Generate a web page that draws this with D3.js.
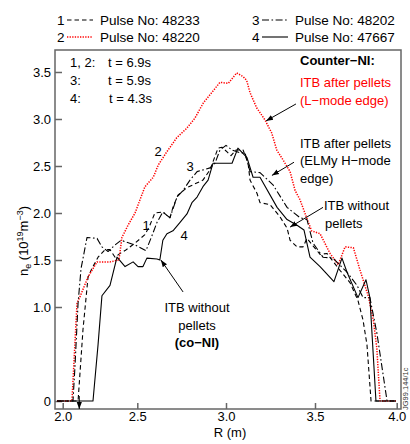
<!DOCTYPE html>
<html><head><meta charset="utf-8">
<script src="https://cdn.jsdelivr.net/npm/d3@7"></script>
<style>
body{margin:0;background:#fff}
svg{display:block}
text{font-family:"Liberation Sans",Arial,Helvetica,sans-serif;fill:#000}
</style>
</head><body>
<svg id="c" width="410" height="444"></svg>
<script>
// ---- data ----
const xTicks = [2.0, 2.5, 3.0, 3.5, 4.0];
const yTicks = [0, 1.0, 1.5, 2.0, 2.5, 3.0, 3.5];
const pulseIds = ["48233", "48220", "48202", "47667"];
const pulseTimes = ["t = 6.9s", "t = 5.9s", "t = 4.3s"];

// Pulse 1 (48233) dashed
const r1  = [1.962,2.103,2.136,2.170,2.196,2.237,2.284,2.317,2.351,2.384,2.418,2.485,2.543,2.571,2.599,2.644,2.684,2.701,2.729,2.780,2.814,2.870,2.910,2.955,2.977,3.006,3.028,3.056,3.096,3.124,3.135,3.174,3.191,3.247,3.303,3.343,3.360,3.399,3.433,3.455,3.489,3.531,3.573,3.653,3.714,3.763,3.794,3.818,3.843,3.996];
const ne1 = [0,0,0.76,1.32,1.41,1.53,1.61,1.61,1.53,1.57,1.60,1.68,1.77,1.87,2.00,2.01,1.95,2.06,2.19,2.27,2.30,2.35,2.46,2.69,2.70,2.65,2.61,2.67,2.67,2.53,2.35,2.21,2.11,2.09,1.96,1.84,1.71,1.64,1.64,1.73,1.65,1.56,1.57,1.39,1.26,1.07,0.86,0.60,0,0];

// Pulse 2 (48220) red dotted
const r2  = [1.962,2.062,2.096,2.116,2.170,2.230,2.317,2.377,2.397,2.438,2.485,2.515,2.543,2.590,2.618,2.666,2.722,2.778,2.825,2.872,2.919,2.966,3.013,3.060,3.097,3.116,3.135,3.172,3.219,3.257,3.285,3.322,3.360,3.388,3.416,3.453,3.481,3.531,3.592,3.642,3.684,3.735,3.776,3.827,3.857,3.878,3.898,3.996];
const ne2 = [0,0,1.04,1.11,1.32,1.48,1.48,1.50,1.74,1.87,2.00,2.14,2.28,2.38,2.51,2.65,2.80,2.90,3.01,3.17,3.28,3.39,3.38,3.49,3.45,3.41,3.28,3.12,2.99,2.85,2.67,2.56,2.44,2.24,2.14,1.95,1.81,1.78,1.57,1.45,1.64,1.63,1.39,1.11,0.86,0.57,0,0];

// Pulse 3 (48202) dash-dot
const r3  = [1.962,2.069,2.082,2.103,2.123,2.163,2.230,2.263,2.304,2.351,2.391,2.485,2.549,2.583,2.611,2.644,2.684,2.724,2.758,2.797,2.837,2.910,2.938,2.966,3.000,3.034,3.079,3.107,3.135,3.191,3.264,3.343,3.416,3.455,3.489,3.549,3.610,3.696,3.757,3.794,3.836,3.879,3.941,3.996];
const ne3 = [0,0,0.36,1.04,1.41,1.74,1.73,1.64,1.59,1.66,1.71,1.66,1.60,1.76,1.90,2.01,1.95,2.17,2.24,2.35,2.44,2.48,2.53,2.67,2.72,2.67,2.64,2.64,2.44,2.43,2.30,2.06,1.95,1.93,1.68,1.53,1.52,1.37,1.23,1.10,1.10,0.72,0,0];

// Pulse 4 (47667) solid
const r4  = [1.962,2.203,2.237,2.263,2.317,2.364,2.418,2.472,2.504,2.532,2.554,2.611,2.627,2.644,2.667,2.701,2.741,2.780,2.808,2.837,2.870,2.899,2.927,3.034,3.067,3.118,3.152,3.191,3.287,3.343,3.399,3.438,3.472,3.531,3.616,3.665,3.696,3.763,3.812,3.836,3.873,3.990];
const ne4 = [0,0,0.60,1.12,1.23,1.53,1.43,1.48,1.43,1.43,1.52,1.51,1.50,1.71,1.78,1.81,1.90,1.99,2.11,2.17,2.28,2.35,2.53,2.53,2.69,2.59,2.38,2.38,2.06,1.93,1.87,1.82,1.53,1.43,1.27,1.52,1.37,1.10,1.29,1.10,0,0];

// ---- chart ----
const svg = d3.select("#c");
const FONT = '"Liberation Sans",Arial,Helvetica,sans-serif';
const frame = {l:55, t:50, r:401, b:409};

const x = d3.scaleLinear().domain(xTicks).range([62.7,137.3,226,315,396.7]);
const y = d3.scaleLinear().domain([-0.085, 3.734]).range([frame.b, frame.t]);

// defs
const defs = svg.append("defs");
defs.append("marker").attr("id","ah").attr("viewBox","0 0 10 10")
  .attr("refX",10).attr("refY",5).attr("markerWidth",7).attr("markerHeight",7)
  .attr("markerUnits","userSpaceOnUse").attr("orient","auto")
  .append("path").attr("d","M0,1.3 L10,5 L0,8.7 z").attr("fill","#000");

// frame
svg.append("rect").attr("x",frame.l).attr("y",frame.t)
  .attr("width",frame.r-frame.l).attr("height",frame.b-frame.t)
  .attr("fill","none").attr("stroke","#666").attr("stroke-width",1.5);

// axes
const yAx = svg.append("g").attr("transform",`translate(${frame.l},0)`)
  .call(d3.axisLeft(y).tickValues(yTicks).tickSize(-7).tickPadding(4)
    .tickFormat(d => d===0 ? "0" : d.toFixed(1)));
const xAx = svg.append("g").attr("transform",`translate(0,${frame.b})`)
  .call(d3.axisBottom(x).tickValues(xTicks).tickSize(-6).tickPadding(3)
    .tickFormat(d3.format(".1f")));
[yAx,xAx].forEach(a=>{
  a.select(".domain").remove();
  a.selectAll(".tick line").attr("stroke","#666").attr("stroke-width",1.5);
  a.selectAll("text").attr("font-size",13).attr("font-family",FONT).attr("fill","#000");
});

// curves
const line = d3.line().x(d=>x(d[0])).y(d=>y(d[1]));
const series = [
  {r:r1, ne:ne1, stroke:"#000", dash:"4.5,3", w:1.1},
  {r:r2, ne:ne2, stroke:"#ff0000", dash:"1.3,1.3", w:1.5},
  {r:r3, ne:ne3, stroke:"#000", dash:"7,2.5,1.6,2.5", w:1.1},
  {r:r4, ne:ne4, stroke:"#000", dash:null, w:1.1}
];
series.forEach(s=>{
  svg.append("path").datum(s.r.map((v,i)=>[v,s.ne[i]]))
    .attr("d",line).attr("fill","none").attr("stroke",s.stroke)
    .attr("stroke-width",s.w).attr("stroke-dasharray",s.dash)
    .attr("stroke-linejoin","round");
});

// legend
const legendPos = [{x:57,y:25},{x:57,y:42},{x:252,y:25},{x:252,y:42}];
series.forEach((s,i)=>{
  const p = legendPos[i];
  svg.append("text").attr("x",p.x).attr("y",p.y).attr("font-size",13.5).text(String(i+1));
  svg.append("line").attr("x1",p.x+10).attr("x2",p.x+36).attr("y1",p.y-5).attr("y2",p.y-5)
    .attr("stroke",s.stroke).attr("stroke-width",s.w).attr("stroke-dasharray",s.dash);
  svg.append("text").attr("x",p.x+43).attr("y",p.y).attr("font-size",13.5)
    .text("Pulse No: " + pulseIds[i]);
});

// text helper
function txt(xp, yp, s, opts={}) {
  const t = svg.append("text").attr("x",xp).attr("y",yp).attr("font-size",opts.size||13)
    .attr("text-anchor",opts.anchor||"start").text(s);
  if (opts.bold) t.attr("font-weight","bold");
  if (opts.fill) t.style("fill",opts.fill);
  return t;
}
// times
txt(70,67,"1, 2:"); txt(108,67,pulseTimes[0]);
txt(70,85,"3:");    txt(108,85,pulseTimes[1]);
txt(70,103,"4:");   txt(109,103,pulseTimes[2]);

txt(300,65,"Counter\u2212NI:",{bold:true});
txt(300,87,"ITB after pellets",{fill:"#ff0000"});
txt(300,105,"(L\u2212mode edge)",{fill:"#ff0000"});
txt(300,148,"ITB after pellets");
txt(300,165,"(ELMy H\u2212mode");
txt(300,183,"edge)");
txt(324,210,"ITB without");
txt(325,228,"pellets");
txt(197,312,"ITB without",{anchor:"middle"});
txt(197,330,"pellets",{anchor:"middle"});
txt(197,347,"(co\u2212NI)",{anchor:"middle",bold:true});

// curve number labels
txt(146,230,"1",{anchor:"middle"});
txt(158,156,"2",{anchor:"middle"});
txt(190,171,"3",{anchor:"middle"});
txt(184,240,"4",{anchor:"middle"});

// arrows (data coordinates)
const arrows = [
  [[3.393,3.16],[3.225,2.98]],
  [[3.382,2.54],[3.258,2.40]],
  [[3.549,2.06],[3.360,1.85]],
  [[2.758,1.16],[2.633,1.50]],
  [[2.111,0.053],[2.111,-0.085]]
];
arrows.forEach(a=>{
  svg.append("line").attr("x1",x(a[0][0])).attr("y1",y(a[0][1]))
    .attr("x2",x(a[1][0])).attr("y2",y(a[1][1]))
    .attr("stroke","#000").attr("stroke-width",1).attr("marker-end","url(#ah)");
});

// axis titles
txt(230,437,"R (m)",{anchor:"middle"});
const yl = svg.append("text").attr("transform","translate(28,241) rotate(-90)")
  .attr("text-anchor","middle").attr("font-size",13);
yl.append("tspan").text("n");
yl.append("tspan").attr("font-size",9).attr("dy",3).text("e");
yl.append("tspan").attr("dy",-3).text(" (10");
yl.append("tspan").attr("font-size",9).attr("dy",-5).text("19");
yl.append("tspan").attr("dy",5).text("m");
yl.append("tspan").attr("font-size",9).attr("dy",-5).text("\u22123");
yl.append("tspan").attr("dy",5).text(")");

// figure id
svg.append("text").attr("transform","translate(408,410) rotate(-90)")
  .attr("font-size",7.5).style("fill","#333").text("JG99.144/1c");
</script>
</body></html>
